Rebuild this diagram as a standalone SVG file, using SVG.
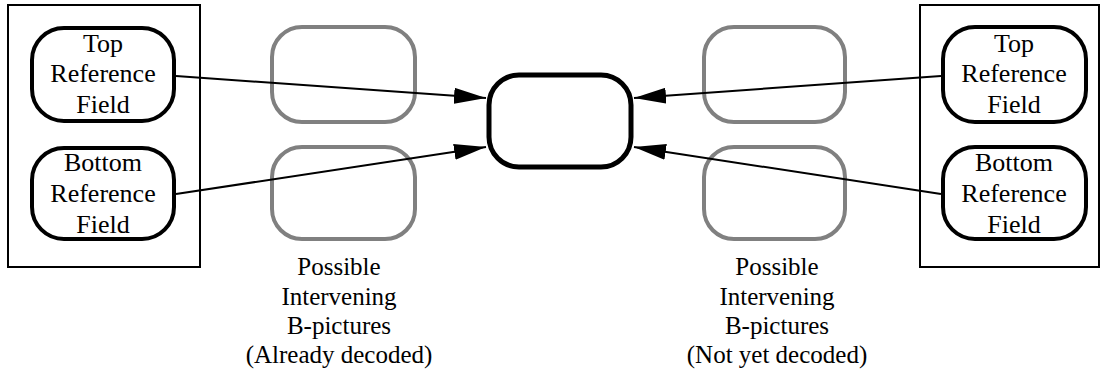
<svg xmlns="http://www.w3.org/2000/svg" width="1107" height="381" viewBox="0 0 1107 381">
<defs>
<style>
.frame{fill:none;stroke:#000;stroke-width:2}
.ref{fill:#fff;stroke:#000;stroke-width:4}
.gray{fill:none;stroke:#808080;stroke-width:4}
.cur{fill:#fff;stroke:#000;stroke-width:5}
.edge{stroke:#000;stroke-width:2;fill:none}
text{font-family:"Liberation Serif","Times New Roman",serif;font-size:26px;fill:#000;text-anchor:middle}
.cap{font-size:25px}
</style>
<marker id="ah" markerUnits="userSpaceOnUse" markerWidth="32" markerHeight="16" viewBox="0 0 32 16" refX="32" refY="8" orient="auto">
<path d="M0,0 L32,8 L0,16 Z" fill="#000"/>
</marker>
</defs>
<g id="left-frame"><rect class="frame" x="8" y="5" width="192" height="262"/></g>
<g id="right-frame"><rect class="frame" x="920" y="5" width="179" height="262"/></g>
<g id="left-gray-top"><rect class="gray" x="272" y="27" width="143" height="95" rx="30"/></g>
<g id="left-gray-bottom"><rect class="gray" x="272" y="147" width="143" height="92" rx="30"/></g>
<g id="right-gray-top"><rect class="gray" x="704" y="27" width="141" height="95" rx="30"/></g>
<g id="right-gray-bottom"><rect class="gray" x="704" y="147" width="141" height="92" rx="30"/></g>
<g id="connectors">
<line class="edge" x1="176" y1="76" x2="486" y2="98" marker-end="url(#ah)"/>
<line class="edge" x1="176" y1="194" x2="486" y2="147" marker-end="url(#ah)"/>
<line class="edge" x1="941" y1="76" x2="634" y2="98" marker-end="url(#ah)"/>
<line class="edge" x1="941" y1="194" x2="634" y2="147" marker-end="url(#ah)"/>
</g>
<g id="current"><rect class="cur" x="489" y="75" width="142" height="92" rx="30"/></g>
<g id="left-top-ref"><rect class="ref" x="32" y="28" width="142" height="93" rx="32"/>
<text x="103" y="52">Top</text><text x="103" y="82">Reference</text><text x="103" y="113">Field</text></g>
<g id="left-bottom-ref"><rect class="ref" x="32" y="148" width="142" height="91" rx="32"/>
<text x="103" y="171">Bottom</text><text x="103" y="202">Reference</text><text x="103" y="233">Field</text></g>
<g id="right-top-ref"><rect class="ref" x="943" y="27" width="143" height="95" rx="32"/>
<text x="1014" y="52">Top</text><text x="1014" y="82">Reference</text><text x="1014" y="113">Field</text></g>
<g id="right-bottom-ref"><rect class="ref" x="943" y="147" width="143" height="92" rx="32"/>
<text x="1014" y="171">Bottom</text><text x="1014" y="202">Reference</text><text x="1014" y="233">Field</text></g>
<g id="left-caption"><text class="cap" x="339" y="275">Possible</text><text class="cap" x="339" y="305">Intervening</text><text class="cap" x="339" y="334">B-pictures</text><text class="cap" x="339" y="363">(Already decoded)</text></g>
<g id="right-caption"><text class="cap" x="777" y="275">Possible</text><text class="cap" x="777" y="305">Intervening</text><text class="cap" x="777" y="334">B-pictures</text><text class="cap" x="777" y="363">(Not yet decoded)</text></g>
</svg>
